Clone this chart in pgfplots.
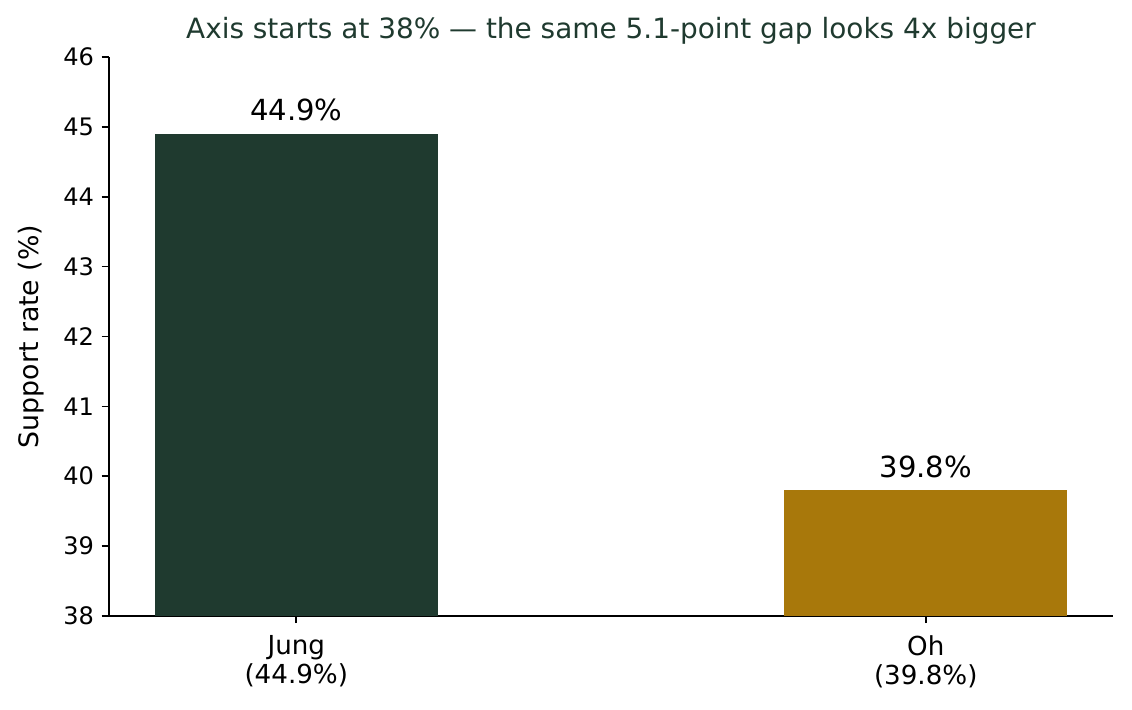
\documentclass[border=0pt]{standalone}
\usepackage{pgfplots}
\pgfplotsset{compat=1.18}
\usepackage{fontspec}
\setmainfont{DejaVu Sans}
\definecolor{jung}{RGB}{31,58,47}
\definecolor{oh}{RGB}{168,120,11}
\definecolor{titlec}{RGB}{31,58,47}
\begin{document}
\begin{tikzpicture}
\begin{axis}[
  name=ax,
  scale only axis,
  width=483.7pt, height=269.3pt,
  xmin=-0.2975, xmax=1.2975,
  ymin=38, ymax=46,
  ytick={38,39,40,41,42,43,44,45,46},
  xtick={0,1},
  xticklabels={{Jung\\(44.9\%)},{Oh\\(39.8\%)}},
  axis x line*=bottom, axis y line*=left,
  axis line style={-, line width=0.8pt},
  every tick/.style={black, line width=0.8pt},
  tick align=outside,
  major tick length=3.5pt,
  /pgf/number format/assume math mode=true,
  yticklabel style={font=\fontsize{11.6}{13}\selectfont, inner sep=0pt, xshift=-3.5pt},
  xticklabel style={font=\fontsize{12.6}{13.7}\selectfont, align=center, inner sep=0pt, yshift=-5.9pt},
  ylabel={Support rate (\%)},
  ylabel style={at={(axis description cs:-0.0777,0.5)}, anchor=center, font=\fontsize{12.9}{15}\selectfont},
  title={Axis starts at 38\% — the same 5.1-point gap looks 4x bigger},
  title style={at={(axis description cs:0.5,1)}, anchor=base, yshift=2.7pt, text=titlec, font=\fontsize{13.45}{16}\selectfont},
  ybar, bar width=0.45,
  nodes near coords,
  nodes near coords style={font=\fontsize{14}{16}\selectfont, anchor=base, inner sep=0pt, yshift=6.3pt, text=black},
  point meta=explicit symbolic,
  clip=false,
]
\addplot[fill=jung, draw=none, bar shift=0] coordinates {(0,44.9) [44.9\%]};
\addplot[fill=oh, draw=none, bar shift=0] coordinates {(1,39.8) [39.8\%]};
\end{axis}
\pgfresetboundingbox
\path ([shift={(-52.52pt,-45.29pt)}]ax.south west) rectangle ([shift={(9.15pt,27.46pt)}]ax.north east);
\end{tikzpicture}
\end{document}
